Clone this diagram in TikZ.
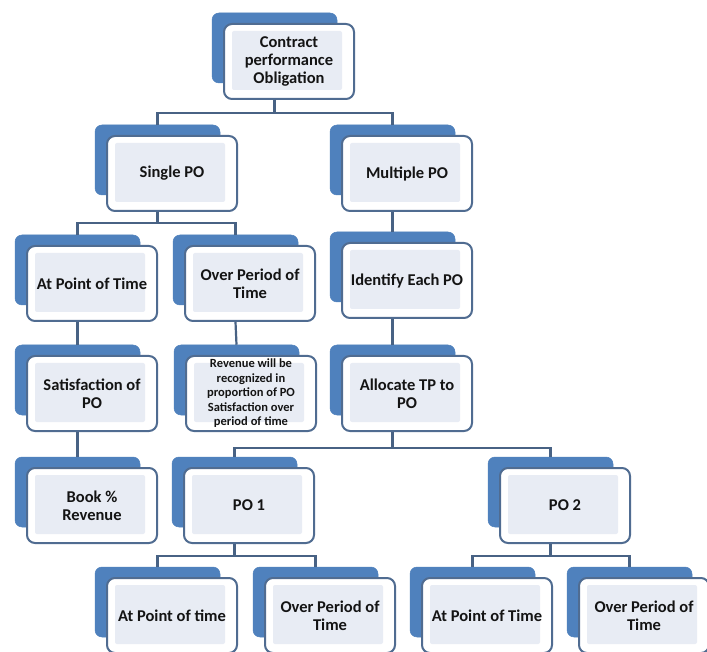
\documentclass[tikz,border=0pt]{standalone}
\usepackage{fontspec}
\setmainfont{Carlito}
\definecolor{backblue}{RGB}{79,129,189}
\definecolor{frontborder}{RGB}{80,108,145}
\definecolor{innerfill}{RGB}{232,236,244}
\definecolor{connc}{RGB}{72,98,132}
\definecolor{textc}{RGB}{20,20,20}
\tikzset{
  backbox/.style={fill=backblue, draw=backblue, line width=0.5pt, rounded corners=7pt, minimum width=125pt, minimum height=70pt, inner sep=0pt},
  frontbox/.style={fill=white, draw=frontborder, line width=2pt, rounded corners=8pt, minimum width=130pt, minimum height=75pt, inner sep=0pt},
  conn/.style={draw=connc, line width=2.2pt},
  bigtxt/.style={font=\bfseries\fontsize{16.5}{18}\selectfont, align=center, text=textc, inner sep=0pt},
  smalltxt/.style={font=\bfseries\fontsize{12.5}{14.5}\selectfont, align=center, text=textc, inner sep=0pt}
}
\newcommand\pobox[5]{%
  \node[backbox] (#1-b) at (#2+62.5, #3+35) {};
  \node[frontbox] (#1) at (#2+77, #3+48.5) {};
  \fill[innerfill, rounded corners=2pt] ([xshift=9pt,yshift=-8pt]#1.north west) rectangle ([xshift=-13pt,yshift=10pt]#1.south east);
  \node[#5] (#1-t) at (#1.center) {#4};
}
\begin{document}
\begin{tikzpicture}[x=1pt,y=-1pt]
\fill[white] (0,0) rectangle (707,652);
\useasboundingbox (0,0) rectangle (707,652);

\pobox{c}{212}{13}{Contract\\performance\\Obligation}{bigtxt}
\pobox{sp}{95}{125}{Single PO}{bigtxt}
\pobox{mp}{330}{125}{Multiple PO}{bigtxt}
\pobox{apt}{15}{235}{At Point of Time}{bigtxt}
\pobox{opt}{173}{235}{Over Period of\\Time}{bigtxt}
\pobox{id}{330}{232}{Identify Each PO}{bigtxt}
\pobox{sat}{15}{345}{Satisfaction of\\PO}{bigtxt}
\pobox{rev}{174}{345}{Revenue will be\\recognized in\\proportion of PO\\Satisfaction over\\period of time}{smalltxt}
\pobox{alloc}{330}{345}{Allocate TP to\\PO}{bigtxt}
\pobox{book}{15}{457}{Book \%\\Revenue}{bigtxt}
\pobox{poa}{172}{457}{PO 1}{bigtxt}
\pobox{pob}{488}{457}{PO 2}{bigtxt}
\pobox{apta}{95}{567}{At Point of time}{bigtxt}
\pobox{opta}{253}{567}{Over Period of\\Time}{bigtxt}
\pobox{aptb}{410}{567}{At Point of Time}{bigtxt}
\pobox{optb}{567}{567}{Over Period of\\Time}{bigtxt}

% connectors
\draw[conn] (c-b.center |- c.south) -- ++(0,13) -| (sp-b.north);
\draw[conn] (c-b.center |- c.south) -- ++(0,13) -| (mp-b.north);
\draw[conn] (sp-b.center |- sp.south) -- ++(0,11) -| (apt-b.north);
\draw[conn] (sp-b.center |- sp.south) -- ++(0,11) -| (opt-b.north);
\draw[conn] (mp-b.center |- mp.south) -- (id-b.north);
\draw[conn] (apt-b.center |- apt.south) -- (sat-b.north);
\draw[conn] (opt-b.center |- opt.south) -- (rev-b.north);
\draw[conn] (id-b.center |- id.south) -- (alloc-b.north);
\draw[conn] (sat-b.center |- sat.south) -- (book-b.north);
\draw[conn] (alloc-b.center |- alloc.south) -- ++(0,16) -| (poa-b.north);
\draw[conn] (alloc-b.center |- alloc.south) -- ++(0,16) -| (pob-b.north);
\draw[conn] (poa-b.center |- poa.south) -- ++(0,12) -| (apta-b.north);
\draw[conn] (poa-b.center |- poa.south) -- ++(0,12) -| (opta-b.north);
\draw[conn] (pob-b.center |- pob.south) -- ++(0,12) -| (aptb-b.north);
\draw[conn] (pob-b.center |- pob.south) -- ++(0,12) -| (optb-b.north);
\end{tikzpicture}
\end{document}
